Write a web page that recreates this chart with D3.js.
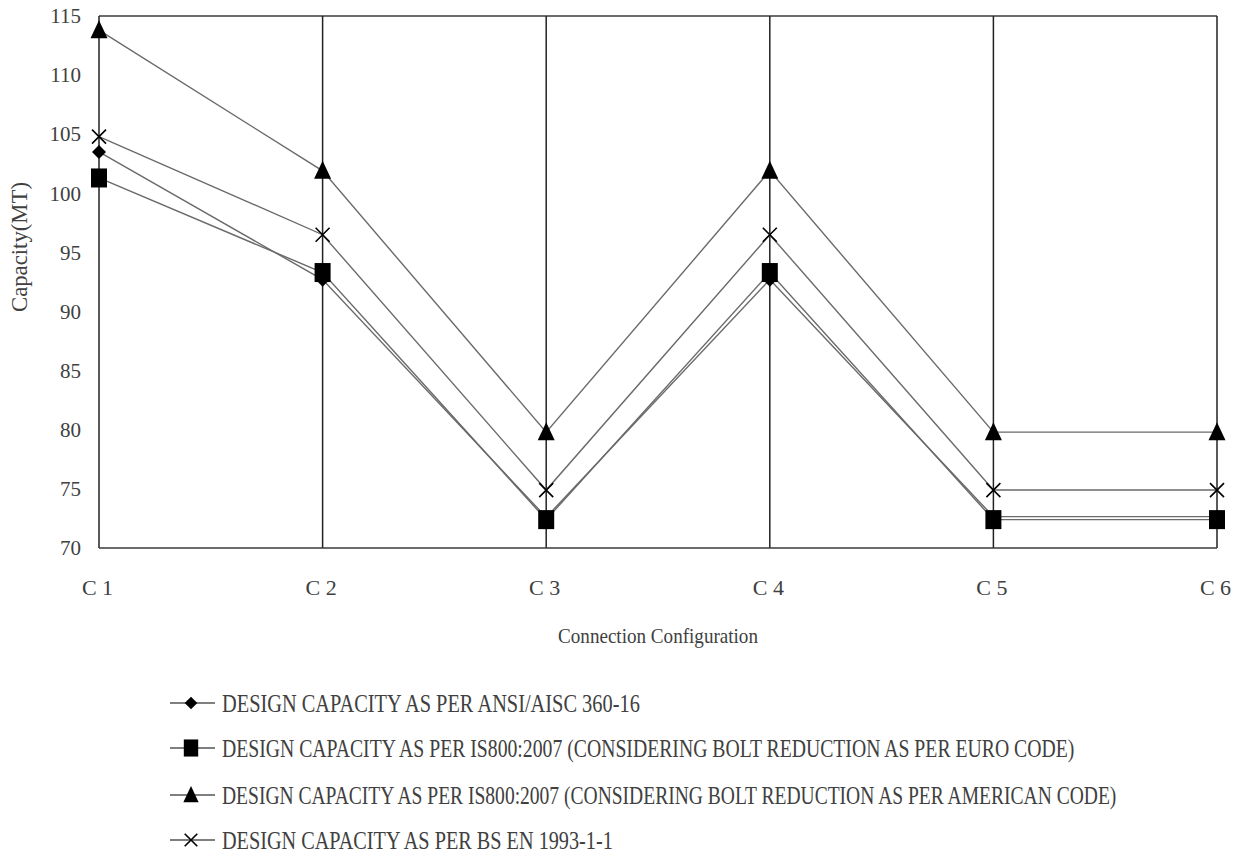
<!DOCTYPE html>
<html><head><meta charset="utf-8">
<script src="https://cdn.jsdelivr.net/npm/d3@7"></script>
<style>body{margin:0;background:#fff}svg{display:block}</style>
</head><body>
<svg id="c" width="1235" height="860"></svg>
<script>
const categories = ["C1","C2","C3","C4","C5","C6"];
const categoryLabels = ["C 1","C 2","C 3","C 4","C 5","C 6"];
const ansi = [103.5, 92.7, 72.6, 92.7, 72.65, 72.65];
const isEuro = [101.3, 93.3, 72.4, 93.3, 72.4, 72.4];
const isAmerican = [113.8, 101.9, 79.8, 101.9, 79.8, 79.8];
const bsEn = [104.8, 96.5, 74.9, 96.5, 74.9, 74.9];
const yTicks = [70,75,80,85,90,95,100,105,110,115];
const seriesNames = [
  "DESIGN CAPACITY AS PER ANSI/AISC 360-16",
  "DESIGN CAPACITY AS PER IS800:2007 (CONSIDERING BOLT REDUCTION AS PER EURO CODE)",
  "DESIGN CAPACITY AS PER IS800:2007 (CONSIDERING BOLT REDUCTION AS PER AMERICAN CODE)",
  "DESIGN CAPACITY AS PER BS EN 1993-1-1"
];
const markers = ["diamond","square","triangle","cross"];
const seriesValues = [ansi, isEuro, isAmerican, bsEn];
const legendWidths = [418, 853, 895, 391];

const svg = d3.select("#c");
const L = 99, R = 1217, T = 16, B = 548;
const x = d3.scalePoint().domain(categories).range([L, R]);
const y = d3.scaleLinear().domain([70,115]).range([B, T]);
const serif = "'Liberation Serif','Times New Roman',serif";
const axisColor = "#3a3a3a";
const lineColor = "#6a6a6a";
const textColor = "#404040";

// fit a text horizontally to a target width via a scale transform
function fitText(parent, str, size, tx, ty, width, anchor, rotate){
  const g = parent.append("g");
  const inner = g.append("g");
  const t = inner.append("text").attr("font-family",serif).attr("font-size",size)
    .attr("fill",textColor).attr("text-anchor",anchor||"start").text(str);
  const w = t.node().getComputedTextLength();
  const sx = width / w;
  g.attr("transform",`translate(${tx},${ty})` + (rotate ? ` rotate(${rotate})` : ""));
  inner.attr("transform",`scale(${sx},1)`);
  return t;
}

// top border
svg.append("line").attr("x1",L).attr("x2",R).attr("y1",T).attr("y2",T)
  .attr("stroke",axisColor).attr("stroke-width",1.5);
// vertical grid lines at categories
svg.selectAll("line.vg").data(categories).join("line").attr("class","vg")
  .attr("x1",d=>x(d)).attr("x2",d=>x(d)).attr("y1",T).attr("y2",B)
  .attr("stroke","#222").attr("stroke-width",1.5);
// bottom axis line
svg.append("line").attr("x1",L).attr("x2",R).attr("y1",B).attr("y2",B)
  .attr("stroke",axisColor).attr("stroke-width",1.5);

// y axis labels
const yAxis = d3.axisLeft(y).tickValues(yTicks).tickSize(0).tickPadding(18);
const yg = svg.append("g").attr("transform",`translate(${L},0)`).call(yAxis);
yg.select(".domain").remove();
yg.selectAll("text").attr("font-family",serif).attr("font-size",21).attr("fill",textColor);

// x axis labels
const xAxis = d3.axisBottom(x).tickSize(0).tickPadding(31).tickFormat((d,i)=>categoryLabels[i]);
const xg = svg.append("g").attr("transform",`translate(0,${B})`).call(xAxis);
xg.select(".domain").remove();
xg.selectAll("text").attr("font-family",serif).attr("font-size",22).attr("fill",textColor)
  .attr("dx",-2);

// axis titles
fitText(svg, "Capacity(MT)", 23, 27, 247, 130, "middle", -90);
fitText(svg, "Connection Configuration", 20, 658, 643, 200, "middle");

function drawMarker(g, type, cx, cy, scale){
  const s = scale||1;
  if(type==="diamond"){
    g.append("path").attr("d",`M${cx},${cy-7*s}L${cx+7*s},${cy}L${cx},${cy+7*s}L${cx-7*s},${cy}Z`).attr("fill","#000");
  } else if(type==="square"){
    g.append("rect").attr("x",cx-8*s).attr("y",cy-9.5*s).attr("width",16*s).attr("height",19*s).attr("fill","#000");
  } else if(type==="triangle"){
    g.append("path").attr("d",`M${cx},${cy-10*s}L${cx+8.5*s},${cy+8*s}L${cx-8.5*s},${cy+8*s}Z`).attr("fill","#000");
  } else {
    g.append("path").attr("d",`M${cx-7*s},${cy-7*s}L${cx+7*s},${cy+7*s}M${cx+7*s},${cy-7*s}L${cx-7*s},${cy+7*s}`)
      .attr("stroke","#000").attr("stroke-width",1.6).attr("fill","none");
  }
}

const line = d3.line().x((d,i)=>x(categories[i])).y(d=>y(d));
const order = [0,1,3,2];
order.forEach(si=>{
  svg.append("path").datum(seriesValues[si]).attr("d",line)
    .attr("fill","none").attr("stroke",lineColor).attr("stroke-width",1.4);
});
order.forEach(si=>{
  const g = svg.append("g");
  seriesValues[si].forEach((v,i)=>drawMarker(g, markers[si], x(categories[i]), y(v), 1));
});

// legend
const legendY = [703, 748, 795, 840];
seriesNames.forEach((name,i)=>{
  const g = svg.append("g");
  g.append("line").attr("x1",170).attr("x2",215).attr("y1",legendY[i]).attr("y2",legendY[i])
    .attr("stroke","#555").attr("stroke-width",1.4);
  drawMarker(g, markers[i], 191, legendY[i], 0.9);
  fitText(g, name, 25, 222, legendY[i]+9, legendWidths[i], "start");
});
</script>
</body></html>
